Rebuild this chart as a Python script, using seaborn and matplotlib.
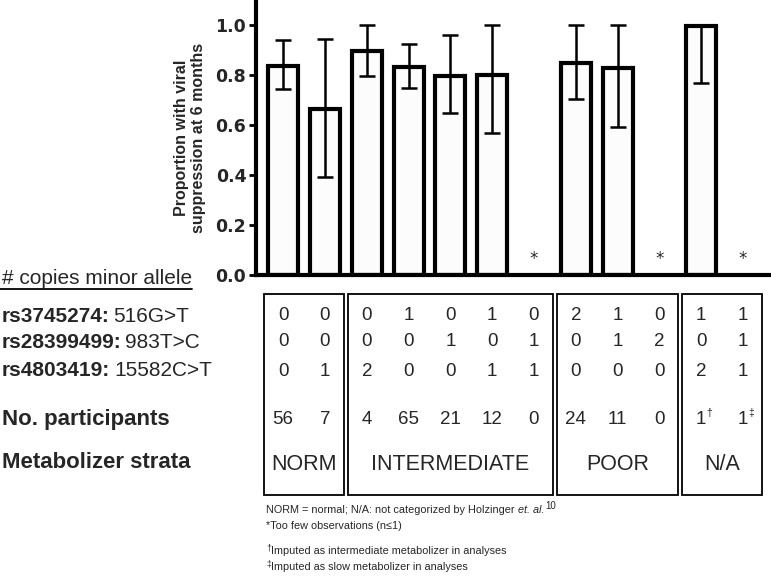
import numpy as np
import pandas as pd
import matplotlib
matplotlib.use("Agg")
import matplotlib.pyplot as plt
import seaborn as sns
from matplotlib import transforms, font_manager
from matplotlib.patches import Rectangle
from matplotlib.lines import Line2D

# one slot per genotype combination, left to right
slots = [f"s{i}" for i in range(12)]
proportion = [0.838, 0.665, 0.898, 0.834, 0.796, 0.801, np.nan, 0.850, 0.830, np.nan, 0.995, np.nan]
ci_low = [0.745, 0.392, 0.796, 0.748, 0.648, 0.568, np.nan, 0.704, 0.592, np.nan, 0.768, np.nan]
ci_high = [0.940, 0.944, 1.000, 0.924, 0.960, 1.000, np.nan, 1.000, 1.000, np.nan, 1.000, np.nan]

snp_names = ["rs3745274:", "rs28399499:", "rs4803419:"]
snp_changes = ["516G>T", "983T>C", "15582C>T"]
rs3745274 = [0, 0, 0, 1, 0, 1, 0, 2, 1, 0, 1, 1]
rs28399499 = [0, 0, 0, 0, 1, 0, 1, 0, 1, 2, 0, 1]
rs4803419 = [0, 1, 2, 0, 0, 1, 1, 0, 0, 0, 2, 1]
n_participants = [56, 7, 4, 65, 21, 12, 0, 24, 11, 0, 1, 1]
n_marks = {10: "\u2020", 11: "\u2021"}

strata = ["NORM", "INTERMEDIATE", "POOR", "N/A"]
strata_slots = [(0, 1), (2, 6), (7, 9), (10, 11)]

W, H = 771, 576


def fy(py):
    return 1 - py / H


def has_font(name):
    try:
        font_manager.findfont(font_manager.FontProperties(family=name),
                              fallback_to_default=False)
        return True
    except ValueError:
        return False


sns.set_style("white")
plt.rcParams["font.family"] = ["Liberation Sans", "DejaVu Sans"]

if has_font("Liberation Sans Narrow"):
    foot_family, foot_size = ["Liberation Sans Narrow", "DejaVu Sans"], 9.3
else:
    foot_family, foot_size = ["Liberation Sans", "DejaVu Sans"], 7.8

fig = plt.figure(figsize=(W / 100, H / 100), dpi=100)
ax = fig.add_axes([256 / W, 1 - 275 / H, 1 - 256 / W, 275 / H])

df = pd.DataFrame({"slot": slots, "prop": proportion, "lo": ci_low, "hi": ci_high})
obs = df.dropna()

sns.barplot(data=obs, x="slot", y="prop", order=slots, color="#fcfcfc",
            saturation=1, edgecolor="black", linewidth=3, width=0.72,
            errorbar=None, ax=ax)

pos = [slots.index(s) for s in obs["slot"]]
ax.errorbar(pos, obs["prop"], yerr=[obs["prop"] - obs["lo"], obs["hi"] - obs["prop"]],
            fmt="none", ecolor="black", elinewidth=1.8, capsize=6, capthick=1.8,
            zorder=5)

for i, p in enumerate(proportion):
    if np.isnan(p):
        ax.text(i, 0.065, "*", ha="center", va="center", fontsize=12,
                family="DejaVu Sans")

ax.set_ylim(0, 1.1)
ax.set_xlim(-0.65, 11.67)
ax.set_yticks(np.arange(0, 1.01, 0.2))
ax.set_yticklabels([f"{v:.1f}" for v in np.arange(0, 1.01, 0.2)])
for lbl in ax.get_yticklabels():
    lbl.set_fontfamily("DejaVu Sans")
    lbl.set_fontweight("bold")
ax.tick_params(axis="y", labelsize=12.5, length=5, width=2, direction="out",
               pad=2, left=True, color="black")
ax.set_xticks([])
ax.set_xlabel("")
ax.set_ylabel("Proportion with viral\nsuppression at 6 months", fontsize=11.5,
              fontweight="bold", linespacing=1.15)
ax.yaxis.set_label_coords(-0.097, 0.5)
sns.despine(ax=ax)
for side in ["left", "bottom"]:
    ax.spines[side].set_linewidth(3)
    ax.spines[side].set_color("black")

# table below the bars
trans = transforms.blended_transform_factory(ax.transData, fig.transFigure)

for row_y, vals in zip([316, 342, 371], [rs3745274, rs28399499, rs4803419]):
    for i, v in enumerate(vals):
        ax.text(i, fy(row_y), str(v), transform=trans, ha="center", va="center",
                fontsize=13.5)

for i, n in enumerate(n_participants):
    t = ax.text(i, fy(420), str(n), transform=trans, ha="center", va="center",
                fontsize=13.5)
    if i in n_marks:
        ax.annotate(n_marks[i], xy=(1, 1), xycoords=t, xytext=(0.3, 2.5),
                    textcoords="offset points", ha="left", va="top", fontsize=7.5)

for (a, b), name in zip(strata_slots, strata):
    ax.add_artist(Rectangle((a - 0.45, fy(495)), b - a + 0.9, fy(294) - fy(495),
                            transform=trans, fill=False, lw=1.3, ec="black",
                            clip_on=False))
    ax.text((a + b) / 2, fy(464), name, transform=trans, ha="center", va="center",
            fontsize=15.5)

# row labels on the left
hdr = fig.text(0.002, fy(279), "# copies minor allele", fontsize=15, va="center")
for row_y, name, change in zip([316, 342, 371], snp_names, snp_changes):
    t = fig.text(0.002, fy(row_y), name, fontsize=15, fontweight="bold", va="center")
    ax.annotate(change, xy=(1, 0), xycoords=t, xytext=(3, 0),
                textcoords="offset points", ha="left", va="bottom", fontsize=15)
fig.text(0.002, fy(419), "No. participants", fontsize=16, fontweight="bold",
         va="center")
fig.text(0.002, fy(463), "Metabolizer strata", fontsize=16, fontweight="bold",
         va="center")

fig.canvas.draw()
hb = hdr.get_window_extent()
fig.add_artist(Line2D([0, hb.x1 / W], [fy(289), fy(289)], transform=fig.transFigure,
                      lw=1.3, color="black"))

# footnotes
fx = 266 / W
f1 = fig.text(fx, fy(510), "NORM = normal; N/A: not categorized by Holzinger",
              family=foot_family, fontsize=foot_size, va="center")
f2 = ax.annotate("et. al.", xy=(1, 0), xycoords=f1, xytext=(2.5, 0),
                 textcoords="offset points", ha="left", va="bottom",
                 family=foot_family, fontsize=foot_size, style="italic")
ax.annotate("10", xy=(1, 1), xycoords=f2, xytext=(1, 3),
            textcoords="offset points", ha="left", va="top",
            family=foot_family, fontsize=foot_size * 0.9)
fig.text(fx, fy(526), "*Too few observations (n\u22641)",
         family=foot_family, fontsize=foot_size, va="center")
for row_y, mark, note in zip([551, 567], ["\u2020", "\u2021"],
                             ["Imputed as intermediate metabolizer in analyses",
                              "Imputed as slow metabolizer in analyses"]):
    fig.text(fx, fy(row_y - 3), mark, family=foot_family,
             fontsize=foot_size * 0.8, va="center")
    fig.text(fx + 5 / W, fy(row_y), note, family=foot_family, fontsize=foot_size,
             va="center")

fig.savefig("out.png", dpi=100)
